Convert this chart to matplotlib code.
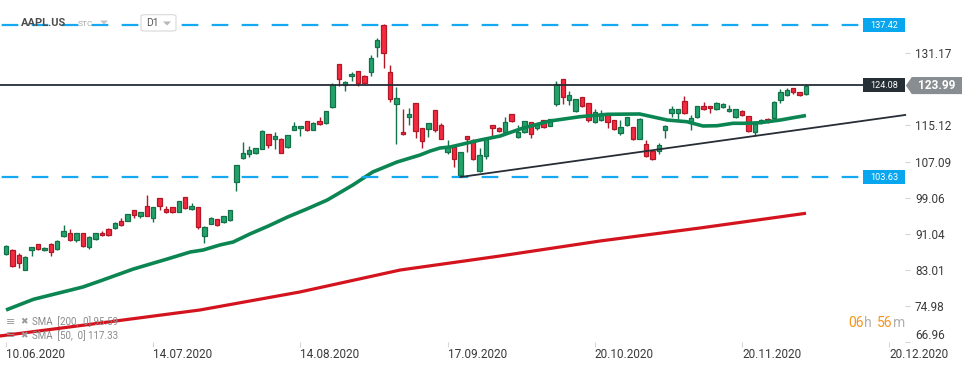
import matplotlib
matplotlib.use('Agg')
import matplotlib.pyplot as plt
from matplotlib.patches import Rectangle, Polygon, FancyBboxPatch
import matplotlib.transforms as mtransforms
import numpy as np

plt.rcParams['font.family'] = ['Roboto', 'DejaVu Sans']
plt.rcParams['lines.scale_dashes'] = False

# daily candles, first one is 10.06.2020
opens = [86.60, 87.35, 86.24, 82.90, 87.49, 88.69, 87.35, 88.69, 87.58, 90.60,
         91.27, 89.71, 91.13, 88.02, 89.80, 91.20, 92.02, 92.25, 93.80, 93.98,
         96.25, 95.05, 97.14, 94.60, 98.92, 96.47, 96.92, 95.94, 99.14, 96.47,
         96.92, 90.60, 93.27, 94.25, 93.58, 94.03, 102.61, 107.95, 108.84, 109.06,
         109.95, 113.15, 112.17, 112.04, 110.26, 114.17, 114.49, 116.04, 114.04, 116.04,
         115.60, 119.16, 128.72, 124.18, 126.05, 127.16, 126.05, 127.07, 132.50, 137.39,
         126.94, 119.82, 113.60, 116.93, 120.05, 114.49, 114.26, 118.49, 115.15, 109.15,
         110.26, 104.17, 112.71, 111.82, 104.92, 108.26, 115.15, 114.49, 113.60, 117.60,
         112.48, 113.60, 115.82, 114.49, 116.27, 114.93, 119.82, 125.38, 120.71, 118.27,
         121.38, 120.05, 115.82, 116.27, 117.44, 116.27, 113.37, 115.15, 114.71, 112.04,
         110.93, 109.37, 109.37, 114.04, 117.82, 117.82, 120.49, 115.60, 116.93, 119.38,
         119.38, 118.71, 119.16, 118.27, 116.93, 118.27, 117.16, 113.60, 115.82, 116.49,
         116.71, 120.71, 121.83, 123.38, 122.49, 122.05]
highs = [88.53, 87.58, 86.69, 86.09, 88.10, 88.75, 88.02, 88.91, 89.55, 92.98,
         92.02, 91.20, 91.25, 90.45, 91.20, 91.58, 92.25, 93.58, 94.47, 95.45,
         96.32, 95.85, 99.65, 97.00, 99.00, 97.14, 97.00, 98.30, 99.20, 97.81,
         97.00, 92.69, 94.70, 94.30, 95.00, 96.30, 106.30, 111.37, 110.48, 110.10,
         114.04, 113.20, 113.60, 112.26, 113.00, 115.89, 115.00, 116.10, 115.82, 116.93,
         118.35, 124.49, 128.80, 125.07, 126.94, 127.20, 126.27, 130.72, 134.50, 137.62,
         128.50, 123.60, 118.78, 118.93, 120.10, 114.55, 115.65, 118.55, 115.60, 111.88,
         110.77, 109.20, 112.75, 112.04, 110.04, 112.30, 115.20, 114.71, 116.93, 117.65,
         115.15, 116.10, 115.90, 115.20, 116.30, 116.55, 124.94, 125.45, 122.72, 121.00,
         121.45, 120.10, 118.71, 118.49, 117.50, 116.30, 116.29, 117.00, 114.75, 116.71,
         111.82, 109.59, 111.15, 115.15, 119.38, 118.75, 121.60, 117.38, 119.45, 120.27,
         119.45, 120.27, 120.05, 119.60, 118.75, 118.49, 117.20, 115.45, 116.49, 116.71,
         120.49, 123.16, 123.38, 123.45, 122.55, 124.27]
lows = [86.37, 83.71, 83.48, 82.90, 86.15, 87.50, 87.30, 86.15, 87.50, 90.38,
        89.49, 89.27, 88.15, 87.71, 89.70, 90.60, 90.60, 92.15, 92.85, 93.90,
        94.60, 94.60, 95.00, 93.71, 96.38, 95.72, 95.72, 95.90, 96.60, 96.40,
        92.02, 89.04, 93.20, 92.85, 93.36, 93.80, 100.61, 107.73, 108.17, 108.84,
        109.90, 110.17, 109.95, 109.00, 110.20, 114.10, 112.84, 113.95, 114.00, 115.30,
        115.50, 119.10, 123.89, 122.85, 125.07, 123.89, 124.40, 126.18, 130.41, 127.96,
        120.40, 110.93, 113.10, 115.15, 112.40, 110.04, 112.62, 113.60, 112.10, 108.70,
        105.95, 103.72, 109.15, 107.37, 104.85, 107.59, 112.71, 113.75, 113.55, 115.82,
        112.26, 113.37, 112.26, 114.04, 114.49, 114.90, 119.38, 119.82, 119.60, 118.20,
        119.16, 115.82, 115.75, 116.20, 114.66, 114.04, 112.93, 115.10, 111.82, 112.00,
        108.20, 107.37, 108.70, 112.26, 116.93, 116.49, 117.75, 114.04, 116.71, 118.65,
        117.82, 118.65, 118.93, 118.20, 116.71, 117.30, 113.75, 112.71, 115.38, 115.60,
        116.65, 120.05, 121.60, 122.05, 121.60, 122.00]
closes = [88.31, 83.80, 84.46, 85.80, 88.02, 87.58, 87.80, 87.04, 89.49, 91.58,
          89.71, 91.13, 88.24, 90.38, 91.13, 90.69, 90.69, 93.36, 92.91, 95.38,
          95.27, 95.80, 95.05, 96.92, 97.27, 95.94, 95.94, 98.25, 96.69, 97.14,
          92.47, 92.47, 94.60, 92.91, 94.91, 96.25, 106.26, 108.93, 109.59, 110.04,
          113.82, 110.84, 112.71, 109.06, 112.93, 114.93, 114.93, 114.17, 115.60, 115.38,
          118.27, 124.18, 125.52, 124.78, 126.56, 124.63, 124.49, 130.05, 134.06, 131.17,
          121.07, 121.16, 113.15, 117.60, 113.82, 111.59, 115.60, 114.04, 112.17, 110.26,
          107.59, 109.15, 112.04, 107.59, 108.48, 112.26, 114.49, 113.82, 115.82, 116.04,
          113.60, 116.04, 113.15, 115.15, 114.71, 116.49, 124.27, 121.38, 121.83, 120.94,
          119.38, 116.27, 118.04, 117.60, 115.78, 114.44, 114.71, 116.93, 112.04, 116.49,
          108.26, 107.59, 110.71, 114.93, 118.71, 118.71, 117.82, 116.71, 119.38, 118.71,
          118.93, 120.05, 119.82, 118.71, 118.71, 117.38, 113.82, 115.38, 116.27, 116.04,
          120.27, 122.49, 122.94, 122.49, 121.83, 123.99]

# moving averages (bar index, value)
sma50_idx = [0, 4.3, 9.5, 12, 14.7, 19.9, 25.2, 28.8, 30.8, 33.4, 35.5, 38.1, 41, 44, 47,
             50.2, 54.2, 57.3, 61.1, 64.7, 66.3, 67.8, 69.4, 74.1, 77.2, 80.8, 85, 89.7,
             94, 99, 103.3, 106.4, 108.9, 111.1, 113.6, 115.8, 117.8, 121, 123, 125]
sma50_val = [74.08, 76.46, 78.30, 79.19, 80.53, 83.19, 85.42, 86.98, 87.42, 88.53, 89.20,
             90.98, 92.76, 94.76, 96.54, 98.54, 101.88, 104.77, 106.99, 108.55, 109.44,
             110.10, 110.33, 111.88, 112.77, 114.55, 116.11, 117.07, 117.60, 117.67, 116.33,
             115.95, 115.00, 115.06, 115.60, 115.60, 115.73, 116.33, 116.84, 117.33]
sma200_idx = [-1, 14.7, 30.3, 45.9, 61.6, 77.2, 92.8, 108.4, 125]
sma200_val = [68.29, 71.18, 74.08, 78.08, 82.97, 86.09, 89.42, 92.31, 95.59]

# drawn levels
resist_hi = 137.42
resist_mid = 124.08
support_lo = 103.63
last_price = 123.99
trend_idx = [71, 140.5]
trend_val = [103.65, 117.45]

ytick_vals = [66.96, 74.98, 83.01, 91.04, 99.06, 107.09, 115.12, 131.17]
xtick_idx = [0, 23, 46, 69, 92, 115, 138]
xtick_lbl = ['10.06.2020', '14.07.2020', '14.08.2020', '17.09.2020',
             '20.10.2020', '20.11.2020', '20.12.2020']

W, H = 974, 368
fig = plt.figure(figsize=(W / 100, H / 100), dpi=100)
ax = fig.add_axes([0, 26 / H, 905 / W, 342 / H])
ax.set_xlim(-0.94, 140.47)
ax.set_ylim(66.96, 143.02)

o = np.array(opens); h = np.array(highs); l = np.array(lows); c = np.array(closes)
idx = np.arange(len(o))
up = c >= o
fill = np.where(up, '#22a36b', '#f42a3f')
edge = np.where(up, '#137048', '#b01828')

ax.vlines(idx, l, h, colors=edge, linewidth=1.0, zorder=2)
ax.bar(idx, np.maximum(np.abs(c - o), 0.25), bottom=np.minimum(o, c), width=0.68,
       color=fill, edgecolor=edge, linewidth=0.9, zorder=3)

# moving averages
ax.plot(sma200_idx, sma200_val, color='#d3141e', linewidth=2.3, zorder=4, solid_capstyle='butt')
ax.plot(sma50_idx, sma50_val, color='#0b8652', linewidth=2.6, zorder=4, solid_capstyle='butt')

# horizontal levels, they stop at the price labels
x_end = 133.75
dash = (20.4, (12.0, 9.6))
ax.plot([-0.94, x_end], [resist_hi, resist_hi], color='#14a9f2', linewidth=1.6, linestyle=dash, zorder=5)
ax.plot([-0.94, x_end], [support_lo, support_lo], color='#14a9f2', linewidth=1.6, linestyle=dash, zorder=5)
ax.plot([-0.94, x_end + 0.4], [resist_mid, resist_mid], color='#262d35', linewidth=1.3, zorder=5)
ax.plot(trend_idx, trend_val, color='#262d35', linewidth=1.3, zorder=5, clip_on=False)

# level labels
box_h = 3.2
for val, col in [(resist_hi, '#08a6ef'), (support_lo, '#08a6ef'), (resist_mid, '#262e36')]:
    ax.add_patch(Rectangle((133.9, val - box_h / 2), 6.6, box_h, facecolor=col,
                           edgecolor='none', zorder=6, clip_on=False))
    ax.text(137.2, val, '%.2f' % val, color='white', fontsize=6.6, ha='center',
            va='center', zorder=7, clip_on=False)

# last price marker outside the axes
trans = mtransforms.blended_transform_factory(ax.transAxes, ax.transData)
hh = 1.9
ax.add_patch(Polygon([(1.001, last_price), (1.0075, last_price + hh), (1.063, last_price + hh),
                      (1.063, last_price - hh), (1.0075, last_price - hh)], closed=True,
                     facecolor='#878d90', edgecolor='none', transform=trans, clip_on=False, zorder=8))
ax.text(1.0355, last_price, '%.2f' % last_price, transform=trans, color='white', fontsize=8.6,
        fontweight='bold', ha='center', va='center', clip_on=False, zorder=9)

# axes
for s in ax.spines.values():
    s.set_visible(False)
ax.yaxis.tick_right()
ax.set_yticks(ytick_vals)
ax.set_yticklabels(['%.2f' % v for v in ytick_vals])
ax.tick_params(axis='y', length=3.6, width=0.8, color='#d6d6d6', pad=3.6,
               labelsize=8.5, labelcolor='#3a3a3a')
ax.get_yticklabels()[0].set_verticalalignment('bottom')
ax.set_xticks(xtick_idx)
ax.set_xticklabels(xtick_lbl, ha='left')
ax.tick_params(axis='x', length=3.6, width=0.8, color='#d6d6d6', pad=0.5,
               labelsize=8.5, labelcolor='#3a3a3a')

def fx(px):
    return px / W

def fy(py):
    return 1 - py / H

# header
fig.text(fx(21), fy(23.5), 'AAPL.US', fontsize=8, fontweight='bold', color='#4d4d4d', va='center')
fig.text(fx(78), fy(24.5), 'STC', fontsize=6, color='#a8a8a8', va='center')
fig.add_artist(Polygon([(fx(100), fy(20.5)), (fx(108), fy(20.5)), (fx(104), fy(24.5))],
                       closed=True, facecolor='#c4c4c4', edgecolor='none', transform=fig.transFigure))
fig.add_artist(FancyBboxPatch((fx(141), fy(31)), fx(35), 16.3 / H, boxstyle='round,pad=0,rounding_size=0.004',
                              facecolor='white', edgecolor='#d8d8d8', linewidth=0.8, transform=fig.transFigure))
fig.text(fx(146), fy(23.5), 'D1', fontsize=7.5, color='#555555', va='center')
fig.add_artist(Polygon([(fx(163), fy(21.5)), (fx(171), fy(21.5)), (fx(167), fy(25.5))],
                       closed=True, facecolor='#b8b8b8', edgecolor='none', transform=fig.transFigure))

# indicator legend
for py, label in [(322, 'SMA  [200,  0] 95.59'), (335.3, 'SMA  [50,  0] 117.33')]:
    fig.text(fx(6), fy(py), '\u2261', fontsize=8, color='#9a9a9a', va='center')
    fig.text(fx(20), fy(py), '\u2716', fontsize=6.5, color='#9a9a9a', va='center')
    fig.text(fx(32), fy(py), label, fontsize=7, color='#8a8a8a', va='center')

# candle countdown
for px, txt, col in [(848, '06', '#f7941d'), (864, 'h', '#b0b0b0'), (877, '56', '#f7941d'), (893, 'm', '#b0b0b0')]:
    fig.text(fx(px), fy(322.7), txt, fontsize=10, color=col, va='center')

fig.savefig('out.png', dpi=100, facecolor='white')
